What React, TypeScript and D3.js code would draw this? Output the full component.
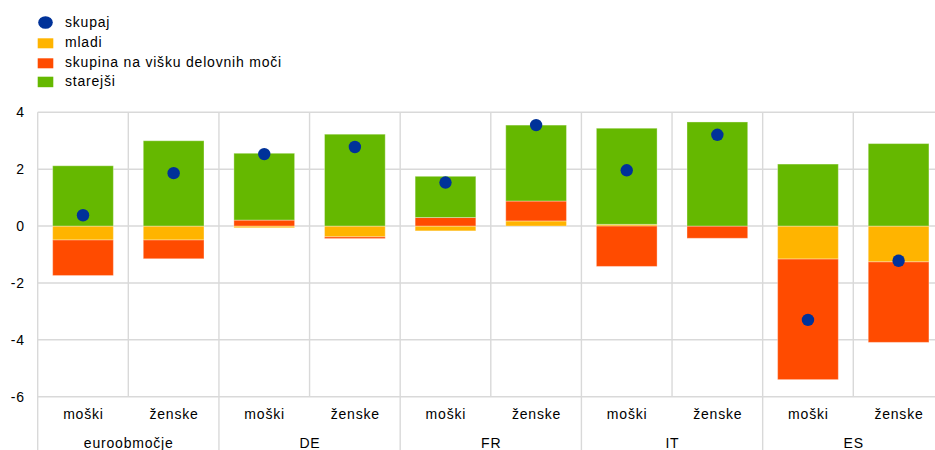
import React from "react";
import * as d3 from "d3";

const groups = ["euroobmočje", "DE", "FR", "IT", "ES"];
const sexes = ["moški", "ženske"];
const mladi = [-0.49, -0.49, -0.06, -0.38, -0.17, 0.18, 0.06, 0.0, -1.16, -1.26];
const delovni = [-1.25, -0.66, 0.21, -0.06, 0.3, 0.7, -1.42, -0.43, -4.24, -2.83];
const starejsi = [2.12, 3.0, 2.35, 3.23, 1.45, 2.67, 3.38, 3.66, 2.18, 2.9];
const skupaj = [0.38, 1.86, 2.53, 2.78, 1.53, 3.55, 1.96, 3.21, -3.3, -1.22];
const yTicks = [4, 2, 0, -2, -4, -6];

const seriesNames = ["skupaj", "mladi", "skupina na višku delovnih moči", "starejši"];
const colors = { dot: "#003299", mladi: "#FFB400", delovni: "#FF4B00", starejsi: "#65B800" };

const W = 935;
const H = 450;
const left = 37.7;
const right = 943.9;
const top = 112.3;
const bottom = 396.7;

export default function App() {
  const slots = groups.flatMap((g) => sexes.map((s) => `${g}|${s}`));
  const rows = slots.map((k, i) => ({ key: k, mladi: mladi[i], delovni: delovni[i], starejsi: starejsi[i] }));
  const x = d3.scaleBand<string>().domain(slots).range([left, right]).padding(0);
  const gx = d3.scaleBand<string>().domain(groups).range([left, right]).padding(0);
  const y = d3.scaleLinear().domain([-6, 4]).range([bottom, top]);
  const stack = d3
    .stack<any>()
    .keys(["mladi", "delovni", "starejsi"])
    .offset(d3.stackOffsetDiverging);
  const series = stack(rows);
  const bw = x.bandwidth() * 0.67;
  const font = "'Liberation Sans', Arial, sans-serif";
  const grid = "#d9d9d9";
  const ls = 0.8;

  return (
    <svg
      width={W}
      height={H}
      style={{ position: "fixed", left: 0, top: 0, background: "#fff" }}
      fontFamily={font}
    >
      {yTicks.map((t) => (
        <line key={t} x1={left} x2={right} y1={y(t)} y2={y(t)} stroke={grid} strokeWidth={1.4} />
      ))}
      {slots.map((s, i) =>
        i % 2 === 1 ? (
          <line key={s} x1={x(s)!} x2={x(s)!} y1={top} y2={bottom} stroke={grid} strokeWidth={1.4} />
        ) : null
      )}
      {groups.map((g) => (
        <line key={g} x1={gx(g)!} x2={gx(g)!} y1={top} y2={H} stroke={grid} strokeWidth={1.4} />
      ))}
      {series.map((ser) => (
        <g key={ser.key} fill={(colors as any)[ser.key]}>
          {ser.map((d, i) => {
            const y0 = y(d[1]);
            const y1 = y(d[0]);
            const h = Math.abs(y1 - y0);
            if (h < 0.01) return null;
            return (
              <rect
                key={i}
                x={x(slots[i])! + (x.bandwidth() - bw) / 2}
                y={Math.min(y0, y1)}
                width={bw}
                height={h}
                stroke="#ffffff"
                strokeOpacity={0.35}
                strokeWidth={1}
              />
            );
          })}
        </g>
      ))}
      {skupaj.map((v, i) => (
        <circle key={i} cx={x(slots[i])! + x.bandwidth() / 2} cy={y(v)} r={6.2} fill={colors.dot} />
      ))}
      {yTicks.map((t) => (
        <text key={t} x={24 + ls} y={y(t) + 5} textAnchor="end" fontSize={14} fill="#000" letterSpacing={ls}>
          {t}
        </text>
      ))}
      {slots.map((s) => (
        <text
          key={s}
          x={x(s)! + x.bandwidth() / 2 + ls / 2}
          y={419}
          textAnchor="middle"
          fontSize={14}
          fill="#000"
          letterSpacing={ls}
        >
          {s.split("|")[1]}
        </text>
      ))}
      {groups.map((g) => (
        <text
          key={g}
          x={gx(g)! + gx.bandwidth() / 2 + ls / 2}
          y={448}
          textAnchor="middle"
          fontSize={14}
          fill="#000"
          letterSpacing={ls}
        >
          {g}
        </text>
      ))}
      <g fontSize={14} fill="#000">
        <ellipse cx={45.5} cy={22.5} rx={7.3} ry={6.3} fill={colors.dot} />
        <rect x={37.7} y={38.3} width={15.6} height={10} fill={colors.mladi} />
        <rect x={37.7} y={58.3} width={15.6} height={10} fill={colors.delovni} />
        <rect x={37.7} y={76.7} width={15.6} height={10.5} fill={colors.starejsi} />
        {seriesNames.map((n, i) => (
          <text key={n} x={65} y={27 + i * 19.8} letterSpacing={ls}>
            {n}
          </text>
        ))}
      </g>
    </svg>
  );
}
